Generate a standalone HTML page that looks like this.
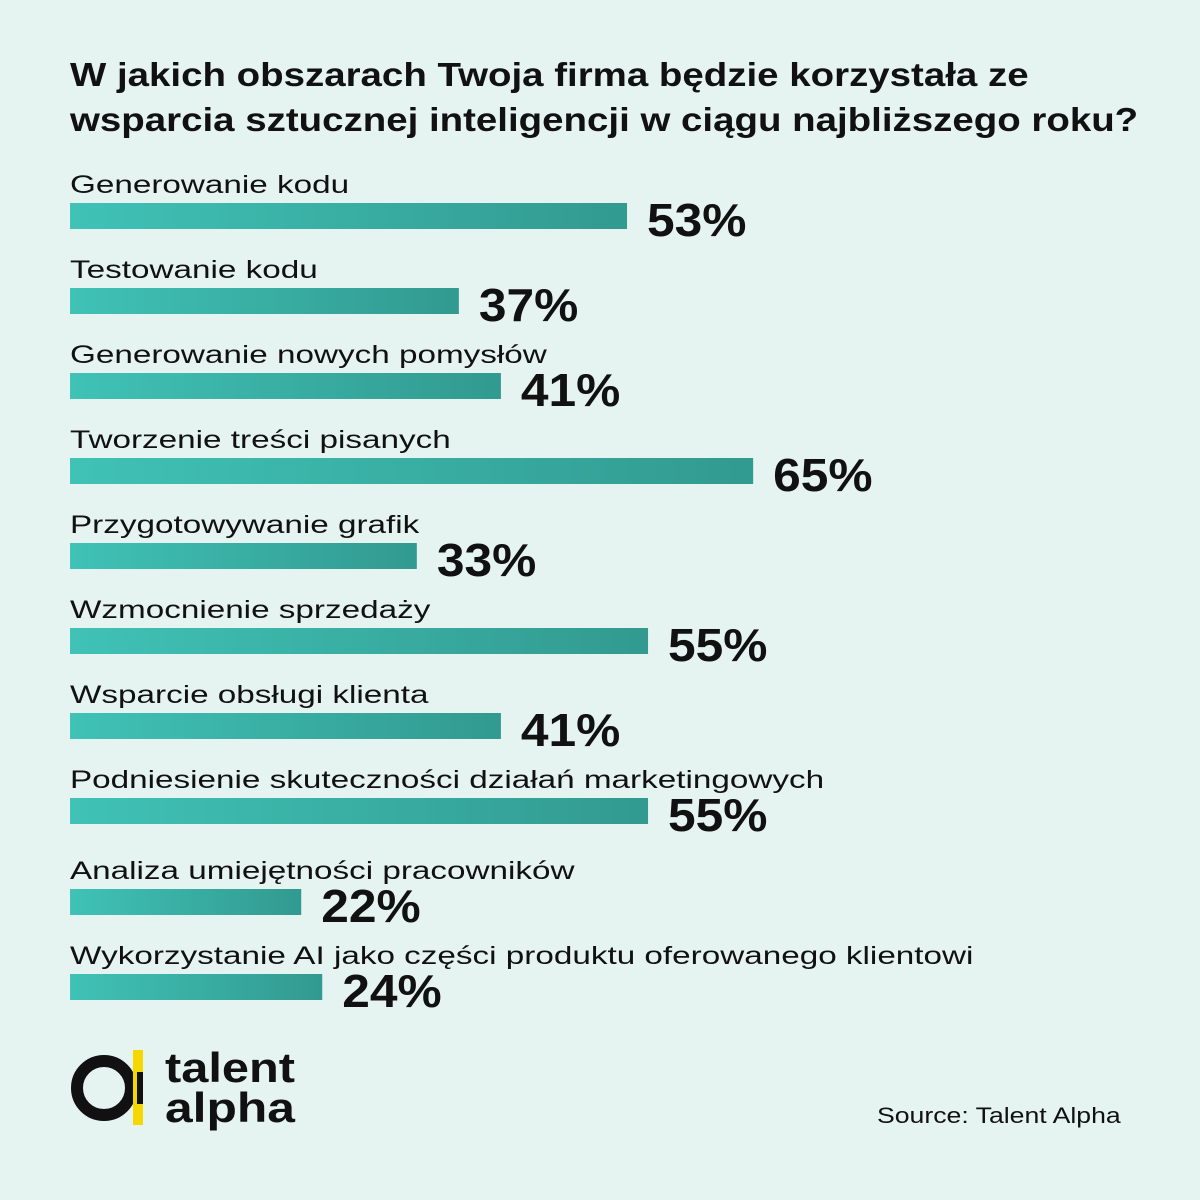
<!DOCTYPE html>
<html><head><meta charset="utf-8">
<style>
body{margin:0;width:1200px;height:1200px;background:#e5f4f1;font-family:"Liberation Sans","DejaVu Sans",sans-serif;color:#111;position:relative;overflow:hidden}
#title{position:absolute;left:70px;top:52px;font-size:33px;font-weight:bold;line-height:45px;margin:0;white-space:nowrap;transform:scaleX(1.165);transform-origin:0 0}
#chart{position:absolute;left:0;top:0}
#source{position:absolute;left:877px;top:1103px;font-size:22px;white-space:nowrap;transform:scaleX(1.21);transform-origin:0 0}
</style></head><body>
<h1 id="title">W jakich obszarach Twoja firma będzie korzystała ze<br>wsparcia sztucznej inteligencji w ciągu najbliższego roku?</h1>
<svg id="chart" width="1200" height="1200">
<defs><linearGradient id="g" x1="0" x2="1"><stop offset="0" stop-color="#40c2b6"/><stop offset="1" stop-color="#329a90"/></linearGradient></defs>
<g id="bars"></g>
<g>
<circle cx="104" cy="1088" r="27" fill="none" stroke="#111" stroke-width="12"/>
<rect x="133" y="1050" width="10" height="75" fill="#f5d800"/>
<rect x="137" y="1072" width="6" height="32" fill="#111"/>
<text x="165" y="1082" font-size="42" font-weight="bold" fill="#111" textLength="130" lengthAdjust="spacingAndGlyphs">talent</text>
<text x="165" y="1122" font-size="42" font-weight="bold" fill="#111" textLength="130" lengthAdjust="spacingAndGlyphs">alpha</text>
</g>
</svg>
<div id="source">Source: Talent Alpha</div>
<script>
const categories=["Generowanie kodu","Testowanie kodu","Generowanie nowych pomysłów","Tworzenie treści pisanych","Przygotowywanie grafik","Wzmocnienie sprzedaży","Wsparcie obsługi klienta","Podniesienie skuteczności działań marketingowych","Analiza umiejętności pracowników","Wykorzystanie AI jako części produktu oferowanego klientowi"];
const values=[53,37,41,65,33,55,41,55,22,24];
const valueLabels=["53%","37%","41%","65%","33%","55%","41%","55%","22%","24%"];
const NS="http://www.w3.org/2000/svg";
const x0=70,scale=10.51;
function xw(v){return v*scale;}
function rowY(i){return 203+i*85+(i>=8?6:0);}
function stretch(el,k){const l=el.getComputedTextLength();el.setAttribute('textLength',l*k);el.setAttribute('lengthAdjust','spacingAndGlyphs');}
const g=document.getElementById('bars');
categories.forEach((c,i)=>{
  const y=rowY(i);
  const t=document.createElementNS(NS,'text');
  t.setAttribute('x',x0);t.setAttribute('y',y-10);t.setAttribute('font-size','25');t.setAttribute('fill','#111');
  t.textContent=c;
  
  
  g.appendChild(t);
  stretch(t,1.33);
  const r=document.createElementNS(NS,'rect');
  r.setAttribute('x',x0);r.setAttribute('y',y);r.setAttribute('width',xw(values[i]));r.setAttribute('height',26);r.setAttribute('fill','url(#g)');
  
  
  g.appendChild(r);
  const v=document.createElementNS(NS,'text');
  v.setAttribute('x',x0+xw(values[i])+20);v.setAttribute('y',y+33);v.setAttribute('font-size','46');v.setAttribute('font-weight','bold');v.setAttribute('fill','#111');
  v.textContent=valueLabels[i];
  
  
  g.appendChild(v);
  stretch(v,1.08);
});
</script>
</body></html>
